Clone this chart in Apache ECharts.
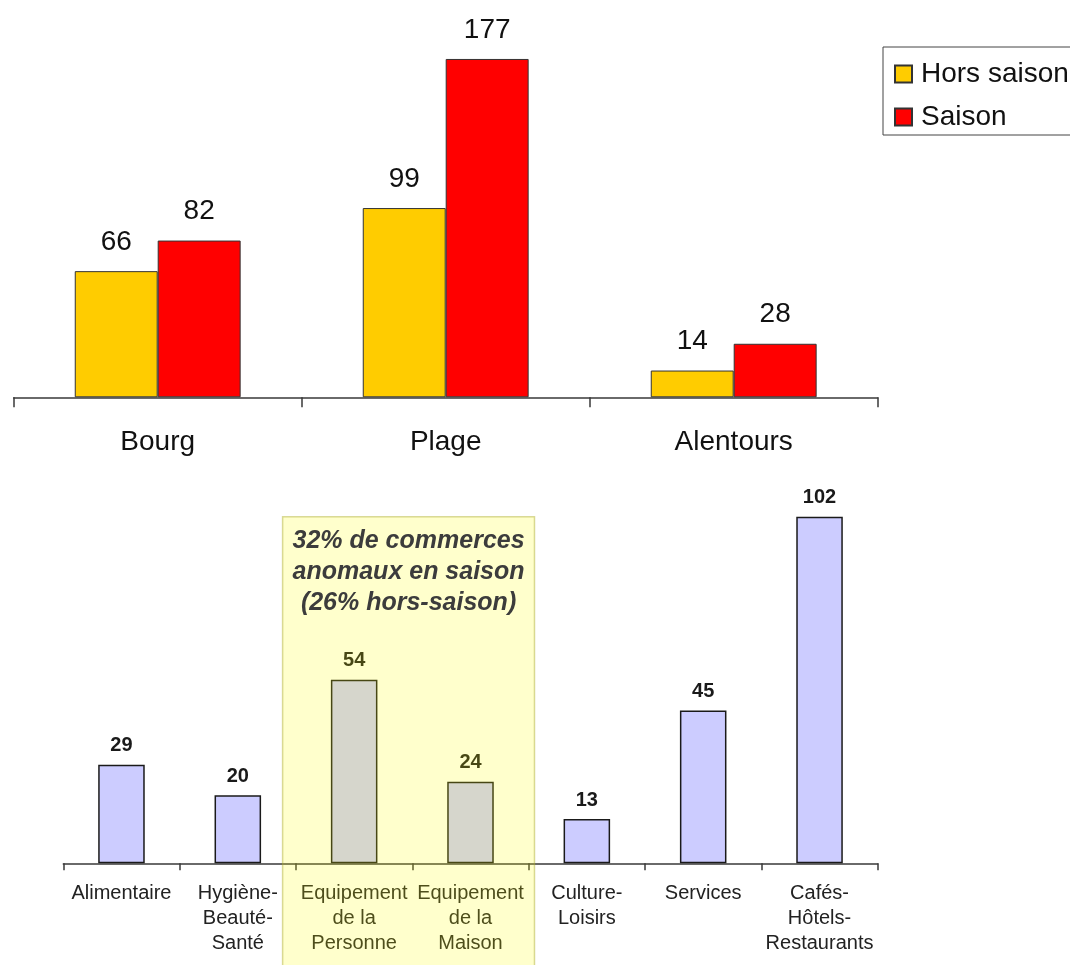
<!DOCTYPE html>
<html>
<head>
<meta charset="utf-8">
<script src="https://cdn.jsdelivr.net/npm/echarts@6/dist/echarts.min.js"></script>
<style>
  html, body { margin: 0; padding: 0; background: #ffffff; }
  #chart { width: 1070px; height: 965px; }
</style>
</head>
<body>
<div id="chart"></div>
<script>
// Commerces par zone : hors saison / saison
const zones = ['Bourg', 'Plage', 'Alentours'];
const horsSaison = [66, 99, 14];
const saison = [82, 177, 28];

// Commerces par secteur d'activité
const secteurs = [
  'Alimentaire',
  'Hygiène-\nBeauté-\nSanté',
  'Equipement\nde la\nPersonne',
  'Equipement\nde la\nMaison',
  'Culture-\nLoisirs',
  'Services',
  'Cafés-\nHôtels-\nRestaurants'
];
const commerces = [29, 20, 54, 24, 13, 45, 102];

// Secteurs mis en évidence et leur note
const secteursAnomaux = [2, 3];
const noteAnomaux = '32% de commerces\nanomaux en saison\n(26% hors-saison)';

const FONT = '"Liberation Sans", Arial, sans-serif';

const chart = echarts.init(document.getElementById('chart'), null, { renderer: 'canvas' });

const axisLine = { lineStyle: { color: '#3a3a3a', width: 1.5 } };

chart.setOption({
  animation: false,
  backgroundColor: '#ffffff',
  textStyle: { fontFamily: FONT },
  legend: {
    data: ['Hors saison', 'Saison'],
    orient: 'vertical',
    left: 883,
    top: 47,
    padding: [13, 30, 4, 11],
    borderColor: '#444',
    borderWidth: 1,
    itemWidth: 17,
    itemHeight: 17,
    itemGap: 15,
    icon: 'rect',
    selectedMode: false,
    textStyle: { fontFamily: FONT, fontSize: 28, color: '#111', padding: [0, 0, 0, 4] }
  },
  grid: [
    { left: 13.7, width: 864, top: 15, height: 382.3 },
    { left: 63.3, width: 814.4, top: 455.5, height: 407.8 }
  ],
  xAxis: [
    {
      type: 'category', gridIndex: 0, data: zones,
      axisLine: axisLine,
      axisTick: { show: true, alignWithLabel: false, interval: 0, length: 10, lineStyle: { color: '#3a3a3a', width: 1.5 } },
      axisLabel: { margin: 31, fontSize: 28, color: '#111', fontFamily: FONT }
    },
    {
      type: 'category', gridIndex: 1, data: secteurs,
      axisLine: axisLine,
      axisTick: { show: true, alignWithLabel: false, interval: 0, length: 7, lineStyle: { color: '#3a3a3a', width: 1.5 } },
      axisLabel: { margin: 18, interval: 0, fontSize: 20, lineHeight: 25, color: '#222', fontFamily: FONT }
    }
  ],
  yAxis: [
    { type: 'value', gridIndex: 0, min: 0, max: 200, show: false, splitLine: { show: false } },
    { type: 'value', gridIndex: 1, min: 0, max: 120, show: false, splitLine: { show: false } }
  ],
  series: [
    {
      name: 'Hors saison', type: 'bar', xAxisIndex: 0, yAxisIndex: 0,
      data: horsSaison,
      barGap: '0%', barCategoryGap: '42.4%',
      itemStyle: { color: '#FFCC00', borderColor: '#333', borderWidth: 1 },
      label: { show: true, position: 'top', distance: 15, fontSize: 28, color: '#111', fontFamily: FONT }
    },
    {
      name: 'Saison', type: 'bar', xAxisIndex: 0, yAxisIndex: 0,
      data: saison,
      barGap: '0%', barCategoryGap: '42.4%',
      itemStyle: { color: '#FF0000', borderColor: '#333', borderWidth: 1 },
      label: { show: true, position: 'top', distance: 15, fontSize: 28, color: '#111', fontFamily: FONT }
    },
    {
      name: 'Commerces', type: 'bar', xAxisIndex: 1, yAxisIndex: 1,
      data: commerces,
      barCategoryGap: '60%',
      itemStyle: { color: '#CCCCFF', borderColor: '#1a1a1a', borderWidth: 1.5 },
      label: { show: true, position: 'top', distance: 9, fontSize: 20, fontWeight: 'bold', color: '#1a1a1a', fontFamily: FONT }
    }
  ]
});

// Encadré jaune translucide posé sur les deux secteurs "Equipement"
function drawHighlight() {
  const first = secteursAnomaux[0];
  const last = secteursAnomaux[secteursAnomaux.length - 1];
  const c0 = chart.convertToPixel({ xAxisIndex: 1, yAxisIndex: 1 }, [first, 0]);
  const c1 = chart.convertToPixel({ xAxisIndex: 1, yAxisIndex: 1 }, [last, 0]);
  const cNext = chart.convertToPixel({ xAxisIndex: 1, yAxisIndex: 1 }, [first + 1, 0]);
  const band = cNext[0] - c0[0];
  const topPt = chart.convertToPixel({ xAxisIndex: 1, yAxisIndex: 1 }, [0, Math.max(...commerces)]);
  const x0 = c0[0] - band * 0.615;
  const x1 = c1[0] + band * 0.55;
  const y0 = topPt[1];
  const y1 = chart.getHeight() + 2;
  chart.setOption({
    graphic: [
      {
        type: 'rect', z: 100,
        shape: { x: x0, y: y0, width: x1 - x0, height: y1 - y0 },
        style: { fill: 'rgba(255,255,0,0.2)', stroke: 'rgba(170,170,40,0.45)', lineWidth: 1.5 }
      },
      {
        type: 'text', z: 101,
        x: (x0 + x1) / 2, y: y0 + 9,
        style: {
          text: noteAnomaux,
          font: 'italic bold 25px ' + FONT,
          fill: '#3c3c3c',
          align: 'center',
          verticalAlign: 'top',
          lineHeight: 31
        }
      }
    ]
  });
}
drawHighlight();
</script>
</body>
</html>
